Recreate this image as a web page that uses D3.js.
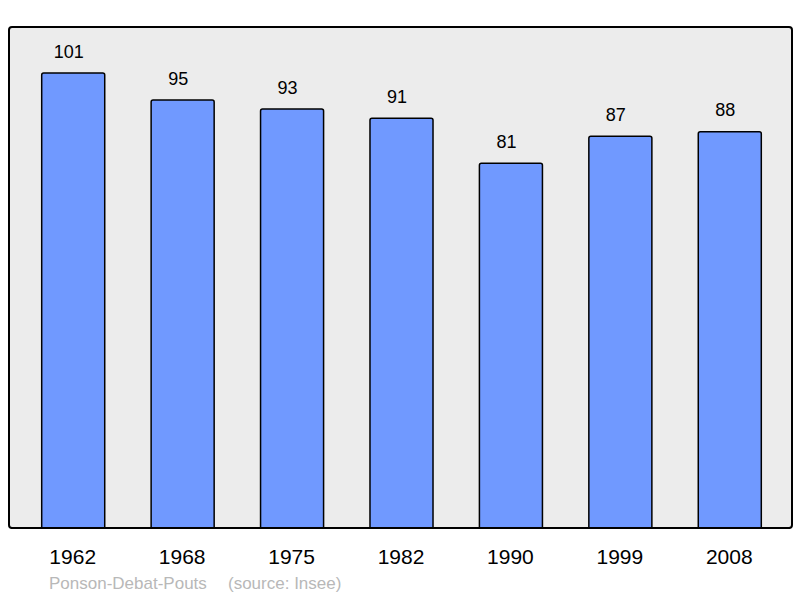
<!DOCTYPE html>
<html>
<head>
<meta charset="utf-8">
<script src="https://cdn.jsdelivr.net/npm/d3@7"></script>
<style>
  body { margin: 0; background: #fff; }
  text { font-family: "Liberation Sans", Arial, sans-serif; }
</style>
</head>
<body>
<div id="chart"></div>
<script>
var years = ["1962", "1968", "1975", "1982", "1990", "1999", "2008"];
var population = [101, 95, 93, 91, 81, 87, 88];
var townName = "Ponson-Debat-Pouts";
var sourceText = "(source: Insee)";

var svgWidth = 800;
var svgHeight = 598;

var panel = { left: 9, top: 27, right: 792, bottom: 528 };

var svg = d3.select("#chart")
  .append("svg")
  .attr("width", svgWidth)
  .attr("height", svgHeight);

var xScale = d3.scaleBand()
  .domain(years)
  .range([18, 784])
  .paddingInner(0.424)
  .paddingOuter(0.212);

var yScale = d3.scaleLinear()
  .domain([0, d3.max(population) * 1.1])
  .range([panel.bottom, panel.top]);

// background panel
svg.append("rect")
  .attr("x", panel.left)
  .attr("y", panel.top)
  .attr("width", panel.right - panel.left)
  .attr("height", panel.bottom - panel.top)
  .attr("rx", 3)
  .attr("fill", "#ececec");

// bars
svg.selectAll(".bar")
  .data(years)
  .enter()
  .append("rect")
  .attr("class", "bar")
  .attr("x", d => xScale(d) + 0.5)
  .attr("y", (d, i) => yScale(population[i]) + 0.5)
  .attr("width", xScale.bandwidth())
  .attr("height", (d, i) => yScale(0) - yScale(population[i]) + 4)
  .attr("rx", 2)
  .attr("fill", "#7099ff")
  .attr("stroke", "#000")
  .attr("stroke-width", 1.5);

// panel border on top of bars
svg.append("rect")
  .attr("x", panel.left)
  .attr("y", panel.top)
  .attr("width", panel.right - panel.left)
  .attr("height", panel.bottom - panel.top)
  .attr("rx", 3)
  .attr("fill", "none")
  .attr("stroke", "#000")
  .attr("stroke-width", 2);

// cover bar bottoms below the panel
svg.append("rect")
  .attr("x", 0)
  .attr("y", panel.bottom + 1)
  .attr("width", svgWidth)
  .attr("height", 6)
  .attr("fill", "#fff");
svg.append("line")
  .attr("x1", panel.left + 2)
  .attr("x2", panel.right - 2)
  .attr("y1", panel.bottom)
  .attr("y2", panel.bottom)
  .attr("stroke", "#000")
  .attr("stroke-width", 2);

// value labels
svg.selectAll(".value")
  .data(years)
  .enter()
  .append("text")
  .attr("class", "value")
  .attr("x", d => xScale(d) + xScale.bandwidth() / 2 - 4)
  .attr("y", (d, i) => yScale(population[i]) - 15)
  .attr("text-anchor", "middle")
  .attr("font-size", "18px")
  .attr("fill", "#000")
  .text((d, i) => population[i]);

// year labels
var xAxis = d3.axisBottom(xScale).tickSize(0).tickPadding(0);
var axisG = svg.append("g")
  .attr("transform", `translate(0, ${panel.bottom})`)
  .call(xAxis);
axisG.select(".domain").remove();
axisG.selectAll("text")
  .attr("y", 36)
  .attr("dy", null)
  .attr("font-family", "Liberation Sans, Arial, sans-serif")
  .attr("font-size", "21px")
  .attr("fill", "#000");

// footer
svg.append("text")
  .attr("x", 49)
  .attr("y", 589)
  .attr("font-size", "17px")
  .attr("fill", "#b8b8b8")
  .text(townName);
svg.append("text")
  .attr("x", 228)
  .attr("y", 589)
  .attr("font-size", "17px")
  .attr("fill", "#b8b8b8")
  .text(sourceText);
</script>
</body>
</html>
